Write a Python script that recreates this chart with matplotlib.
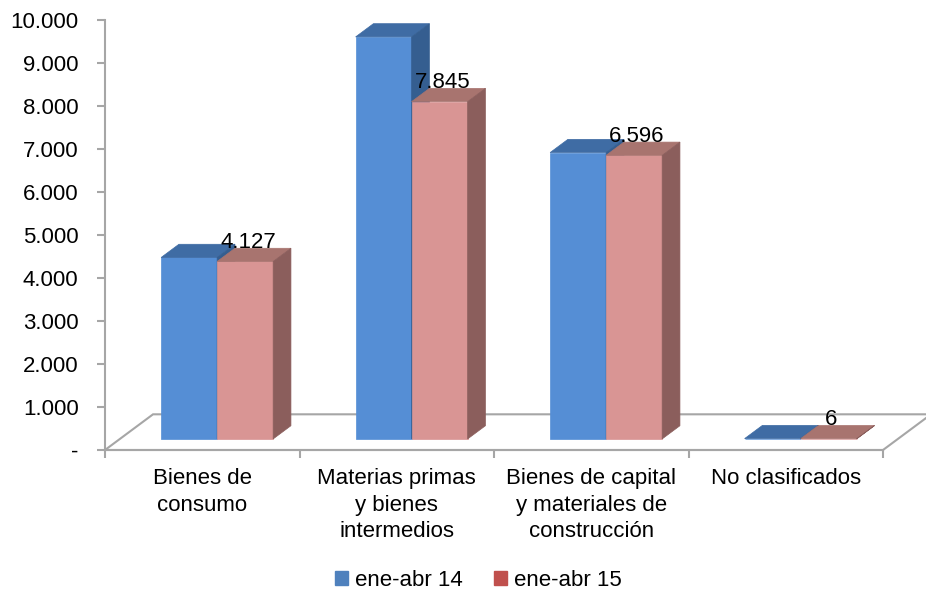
import matplotlib
matplotlib.use("Agg")
import matplotlib.pyplot as plt

categories = ["Bienes de\nconsumo", "Materias primas\ny bienes\nintermedios",
              "Bienes de capital\ny materiales de\nconstrucción", "No clasificados"]
ene_abr_14 = [4220, 9350, 6660, 8]
ene_abr_15 = [4127, 7845, 6596, 6]
labels_15 = ["4.127", "7.845", "6.596", "6"]
yticks = [0, 1000, 2000, 3000, 4000, 5000, 6000, 7000, 8000, 9000, 10000]
ytick_labels = ["-", "1.000", "2.000", "3.000", "4.000", "5.000",
                "6.000", "7.000", "8.000", "9.000", "10.000"]

plt.rcParams["font.family"] = ["Liberation Sans", "DejaVu Sans"]
FS = 16

fig = plt.figure(figsize=(9.26, 5.90), dpi=100)
ax = fig.add_axes([105 / 926, 1 - 450 / 590, 778 / 926, 430 / 590])
ax.set_xlim(0, 4)
ax.set_ylim(0, 10000)

# depth of the floor in data units
DX, DY = 0.247, 830
F0, F1 = 0.31, 0.68
W = 0.288
grey = "#a6a6a6"

def shift(x, y, f):
    return x + f * DX, y + f * DY

# floor
fl = [shift(0, 0, 0), shift(4, 0, 0), shift(4, 0, 1), shift(0, 0, 1)]
ax.fill([p[0] for p in fl], [p[1] for p in fl], facecolor="white",
        edgecolor=grey, lw=1.5, clip_on=False, zorder=1)

def bar3d(x0, x1, h, front, top, side):
    a = [shift(x0, 0, F0), shift(x1, 0, F0), shift(x1, h, F0), shift(x0, h, F0)]
    t = [shift(x0, h, F0), shift(x1, h, F0), shift(x1, h, F1), shift(x0, h, F1)]
    s = [shift(x1, 0, F0), shift(x1, 0, F1), shift(x1, h, F1), shift(x1, h, F0)]
    for poly, col in ((a, front), (t, top), (s, side)):
        ax.fill([p[0] for p in poly], [p[1] for p in poly], facecolor=col,
                edgecolor=col, lw=0.5, clip_on=False, zorder=3)

for i in range(len(categories)):
    c = i + 0.5
    bar3d(c - W, c, ene_abr_14[i], "#558ed5", "#3f6ca4", "#355e90")
    bar3d(c, c + W, ene_abr_15[i], "#d99594", "#a8746f", "#8b5e5c")
    lx, ly = shift(c + W / 2 + 0.01, ene_abr_15[i], F1)
    ax.text(lx - DX * 0.35, ly, labels_15[i], ha="center", va="baseline",
            fontsize=FS, zorder=5)

for sp in ("top", "right"):
    ax.spines[sp].set_visible(False)
for sp in ("left", "bottom"):
    ax.spines[sp].set_color(grey)
    ax.spines[sp].set_linewidth(1.5)
ax.set_yticks(yticks)
ax.set_yticklabels(ytick_labels, fontsize=FS)
ax.set_xticks([0, 1, 2, 3, 4])
ax.set_xticklabels([])
ax.tick_params(axis="both", colors=grey, length=6, width=1.5, labelcolor="black")
ax.tick_params(axis="y", pad=13)

for i, lab in enumerate(categories):
    ax.text(i + 0.5, -430, lab, ha="center", va="top", fontsize=FS,
            linespacing=1.32, clip_on=False)

h1 = plt.Rectangle((0, 0), 1, 1, color="#4f81bd")
h2 = plt.Rectangle((0, 0), 1, 1, color="#c0504d")
fig.legend([h1, h2], ["ene-abr 14", "ene-abr 15"], loc="center",
           bbox_to_anchor=(478 / 926, 1 - 580 / 590), ncol=2, frameon=False,
           fontsize=FS, handlelength=0.6, handleheight=0.6, handletextpad=0.3,
           columnspacing=1.4)

fig.savefig("out.png", dpi=100)
